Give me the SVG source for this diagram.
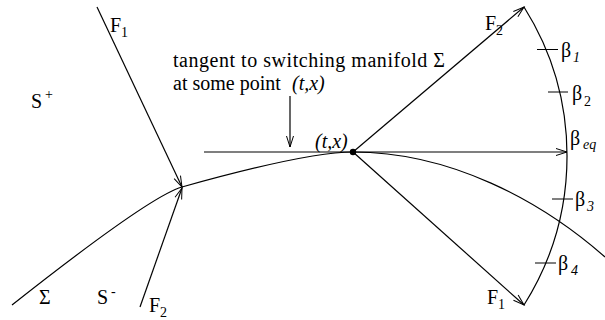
<svg xmlns="http://www.w3.org/2000/svg" width="605" height="320" viewBox="0 0 605 320">
<style>
.ln{fill:none;stroke:#000;stroke-width:1.2}
.tk{fill:none;stroke:#000;stroke-width:1}
.t{font-family:"Liberation Serif","Times New Roman",serif;fill:#000}
.m{font-size:20px}
.l{font-size:20px}
.s{font-size:14px}
.i{font-style:italic}
</style>
<defs>
<marker id="ah" markerUnits="userSpaceOnUse" markerWidth="14" markerHeight="10" viewBox="-12 -5 14 10" refX="0" refY="0" orient="auto">
<path d="M-11,-3.5 L0,0 L-11,3.5" fill="none" stroke="#000" stroke-width="1"/>
</marker>
</defs>
<rect width="605" height="320" fill="#fff"/>
<g id="manifold">
<path class="ln" d="M12,305 Q150,196 182,187 Q307,152 353,152 C450,152 540,200 605,257"/>
<path class="ln" d="M524,7 A279.5,279.5 0 0 1 524,305"/>
<line class="tk" x1="537" y1="49.5" x2="558" y2="49.5"/>
<line class="tk" x1="548" y1="92" x2="568" y2="92"/>
<line class="tk" x1="552" y1="199" x2="573" y2="199"/>
<line class="tk" x1="535" y1="263" x2="556" y2="263"/>
<circle cx="353" cy="152" r="3.2" fill="#000"/>
</g>
<g id="connectors">
<line class="ln" x1="97" y1="7" x2="182" y2="187" marker-end="url(#ah)"/>
<line class="ln" x1="140" y1="307" x2="182" y2="188" marker-end="url(#ah)"/>
<line class="ln" x1="204" y1="152" x2="567" y2="152" marker-end="url(#ah)"/>
<line class="ln" x1="290" y1="96" x2="290" y2="147" marker-end="url(#ah)"/>
<line class="ln" x1="353" y1="152" x2="524" y2="7" marker-end="url(#ah)"/>
<line class="ln" x1="353" y1="152" x2="524" y2="305" marker-end="url(#ah)"/>
</g>
<g id="labels">
<text class="t l" x="31" y="108">S</text><text class="t s" x="45" y="99">+</text>
<text class="t l" x="110" y="32">F</text><text class="t s" x="121" y="37">1</text>
<text class="t m" x="173" y="67" textLength="272" lengthAdjust="spacing">tangent to switching manifold Σ</text>
<text class="t m" x="173" y="89.5">at some point <tspan class="i" x="292">(t,x)</tspan></text>
<text class="t m i" x="315" y="148">(t,x)</text>
<text class="t l" x="485" y="30">F</text><text class="t s" x="496" y="35">2</text>
<text class="t l" x="487" y="304">F</text><text class="t s" x="498" y="309">1</text>
<text class="t l" x="39" y="304">Σ</text>
<text class="t l" x="97" y="304">S</text><text class="t s" x="111" y="296">-</text>
<text class="t l" x="149" y="312">F</text><text class="t s" x="160" y="317">2</text>
<text class="t l" x="561" y="57">β</text><text class="t s i" x="573" y="62">1</text>
<text class="t l" x="572" y="100">β</text><text class="t s" x="584" y="106">2</text>
<text class="t l" x="570" y="145">β</text><text class="t s i" x="583" y="149">eq</text>
<text class="t l" x="575" y="206">β</text><text class="t s i" x="587" y="211">3</text>
<text class="t l" x="558" y="270">β</text><text class="t s i" x="571" y="275">4</text>
</g>
</svg>
